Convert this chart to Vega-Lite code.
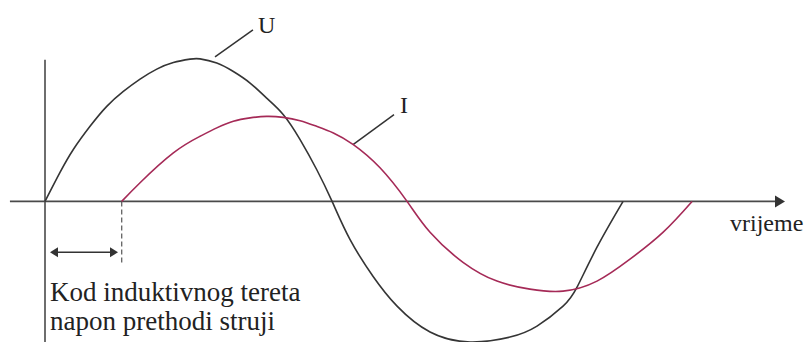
{
  "$schema": "https://vega.github.io/schema/vega-lite/v6.json",
  "width": 807,
  "height": 343,
  "padding": 0,
  "autosize": {"type": "fit", "contains": "padding"},
  "background": "white",
  "config": {"view": {"stroke": null}},
  "datasets": {
    "waves": [
      {"series": "U", "t": 0, "v": 0},
      {"series": "U", "t": 9.33, "v": 0.206},
      {"series": "U", "t": 17.6, "v": 0.369},
      {"series": "U", "t": 28.0, "v": 0.534},
      {"series": "U", "t": 38.4, "v": 0.676},
      {"series": "U", "t": 48.7, "v": 0.782},
      {"series": "U", "t": 59.1, "v": 0.87},
      {"series": "U", "t": 69.5, "v": 0.941},
      {"series": "U", "t": 79.8, "v": 0.988},
      {"series": "U", "t": 90.2, "v": 1.012},
      {"series": "U", "t": 96.4, "v": 1.014},
      {"series": "U", "t": 106.8, "v": 0.984},
      {"series": "U", "t": 117.1, "v": 0.924},
      {"series": "U", "t": 127.5, "v": 0.842},
      {"series": "U", "t": 137.8, "v": 0.735},
      {"series": "U", "t": 148.2, "v": 0.617},
      {"series": "U", "t": 158.6, "v": 0.44},
      {"series": "U", "t": 168.9, "v": 0.227},
      {"series": "U", "t": 178.5, "v": 0},
      {"series": "U", "t": 189.6, "v": -0.27},
      {"series": "U", "t": 203.9, "v": -0.532},
      {"series": "U", "t": 218.9, "v": -0.745},
      {"series": "U", "t": 239.4, "v": -0.929},
      {"series": "U", "t": 264.3, "v": -1.0},
      {"series": "U", "t": 289.1, "v": -0.965},
      {"series": "U", "t": 305.9, "v": -0.887},
      {"series": "U", "t": 322.1, "v": -0.745},
      {"series": "U", "t": 330.8, "v": -0.61},
      {"series": "U", "t": 343.2, "v": -0.326},
      {"series": "U", "t": 359.4, "v": 0},
      {"series": "I", "t": 47.7, "v": 0},
      {"series": "I", "t": 59.1, "v": 0.133},
      {"series": "I", "t": 79.8, "v": 0.345},
      {"series": "I", "t": 96.4, "v": 0.463},
      {"series": "I", "t": 106.8, "v": 0.523},
      {"series": "I", "t": 117.1, "v": 0.57},
      {"series": "I", "t": 127.5, "v": 0.594},
      {"series": "I", "t": 137.8, "v": 0.605},
      {"series": "I", "t": 148.2, "v": 0.598},
      {"series": "I", "t": 158.6, "v": 0.574},
      {"series": "I", "t": 168.9, "v": 0.534},
      {"series": "I", "t": 179.3, "v": 0.487},
      {"series": "I", "t": 191.7, "v": 0.404},
      {"series": "I", "t": 208.3, "v": 0.239},
      {"series": "I", "t": 225.1, "v": 0},
      {"series": "I", "t": 239.4, "v": -0.22},
      {"series": "I", "t": 259.9, "v": -0.433},
      {"series": "I", "t": 281.0, "v": -0.567},
      {"series": "I", "t": 301.5, "v": -0.624},
      {"series": "I", "t": 322.1, "v": -0.638},
      {"series": "I", "t": 343.2, "v": -0.567},
      {"series": "I", "t": 363.7, "v": -0.411},
      {"series": "I", "t": 384.2, "v": -0.22},
      {"series": "I", "t": 402.3, "v": 0}
    ],
    "axes": [
      {"name": "time axis", "t": -21.8, "t2": 457.0, "v": 0, "v2": 0},
      {"name": "value axis", "t": 0, "t2": 0, "v": 1.007, "v2": -1.0}
    ],
    "leaders": [
      {"label": "U", "t": 105.7, "t2": 129.3, "v": 1.028, "v2": 1.22},
      {"label": "I", "t": 191.5, "t2": 217.0, "v": 0.404, "v2": 0.617}
    ],
    "lag": [
      {"t": 5.6, "t2": 42.9, "v": -0.362}
    ],
    "lagmark": [
      {"t": 47.7, "v": 0, "v2": -0.454}
    ],
    "labels": [
      {"text": "U", "t": 132.4, "v": 1.199},
      {"text": "I", "t": 220.7, "v": 0.631},
      {"text": "vrijeme", "t": 425.9, "v": -0.213}
    ],
    "caption": [
      {"text": "Kod induktivnog tereta", "t": 3.1, "v": -0.709},
      {"text": "napon prethodi struji", "t": 3.1, "v": -0.915}
    ]
  },
  "layer": [
    {
      "data": {"name": "axes"},
      "mark": {"type": "rule", "color": "#4a4a4a", "strokeWidth": 1.6},
      "encoding": {
        "x": {"field": "t", "type": "quantitative", "scale": {"domain": [-27.98, 473.77], "nice": false, "zero": false}, "axis": null},
        "x2": {"field": "t2"},
        "y": {"field": "v", "type": "quantitative", "scale": {"domain": [-1.0, 1.4326], "nice": false, "zero": false}, "axis": null},
        "y2": {"field": "v2"}
      }
    },
    {
      "data": {"name": "axes"},
      "transform": [{"filter": "datum.name == 'time axis'"}],
      "mark": {"type": "point", "shape": "M-1,-1.2L1,0L-1,1.2Z", "filled": true, "size": 100, "color": "#333333", "opacity": 1},
      "encoding": {
        "x": {"field": "t2", "type": "quantitative"},
        "y": {"field": "v", "type": "quantitative"}
      }
    },
    {
      "data": {"name": "lagmark"},
      "mark": {"type": "rule", "color": "#555555", "strokeWidth": 1.2, "strokeDash": [5, 3]},
      "encoding": {
        "x": {"field": "t", "type": "quantitative"},
        "y": {"field": "v", "type": "quantitative"},
        "y2": {"field": "v2"}
      }
    },
    {
      "data": {"name": "lag"},
      "mark": {"type": "rule", "color": "#333333", "strokeWidth": 1.4},
      "encoding": {
        "x": {"field": "t", "type": "quantitative"},
        "x2": {"field": "t2"},
        "y": {"field": "v", "type": "quantitative"}
      }
    },
    {
      "data": {"name": "lag"},
      "mark": {"type": "point", "shape": "M0.8,-1L-0.8,0L0.8,1Z", "filled": true, "size": 100, "color": "#333333", "opacity": 1},
      "encoding": {
        "x": {"field": "t", "type": "quantitative"},
        "y": {"field": "v", "type": "quantitative"}
      }
    },
    {
      "data": {"name": "lag"},
      "mark": {"type": "point", "shape": "M-0.8,-1L0.8,0L-0.8,1Z", "filled": true, "size": 100, "color": "#333333", "opacity": 1},
      "encoding": {
        "x": {"field": "t2", "type": "quantitative"},
        "y": {"field": "v", "type": "quantitative"}
      }
    },
    {
      "data": {"name": "leaders"},
      "mark": {"type": "rule", "color": "#333333", "strokeWidth": 1.5},
      "encoding": {
        "x": {"field": "t", "type": "quantitative"},
        "x2": {"field": "t2"},
        "y": {"field": "v", "type": "quantitative"},
        "y2": {"field": "v2"}
      }
    },
    {
      "data": {"name": "waves"},
      "mark": {"type": "line", "interpolate": "natural", "strokeWidth": 1.6, "clip": true},
      "encoding": {
        "x": {"field": "t", "type": "quantitative"},
        "y": {"field": "v", "type": "quantitative"},
        "detail": {"field": "series"},
        "color": {"field": "series", "type": "nominal", "scale": {"domain": ["U", "I"], "range": ["#353535", "#a52a57"]}, "legend": null}
      }
    },
    {
      "data": {"name": "labels"},
      "mark": {"type": "text", "font": "Liberation Serif, Times New Roman, DejaVu Serif, serif", "fontSize": 24, "align": "left", "baseline": "alphabetic", "color": "#222222"},
      "encoding": {
        "x": {"field": "t", "type": "quantitative"},
        "y": {"field": "v", "type": "quantitative"},
        "text": {"field": "text"}
      }
    },
    {
      "data": {"name": "caption"},
      "mark": {"type": "text", "font": "Liberation Serif, Times New Roman, DejaVu Serif, serif", "fontSize": 27, "align": "left", "baseline": "alphabetic", "color": "#222222"},
      "encoding": {
        "x": {"field": "t", "type": "quantitative"},
        "y": {"field": "v", "type": "quantitative"},
        "text": {"field": "text"}
      }
    }
  ]
}
